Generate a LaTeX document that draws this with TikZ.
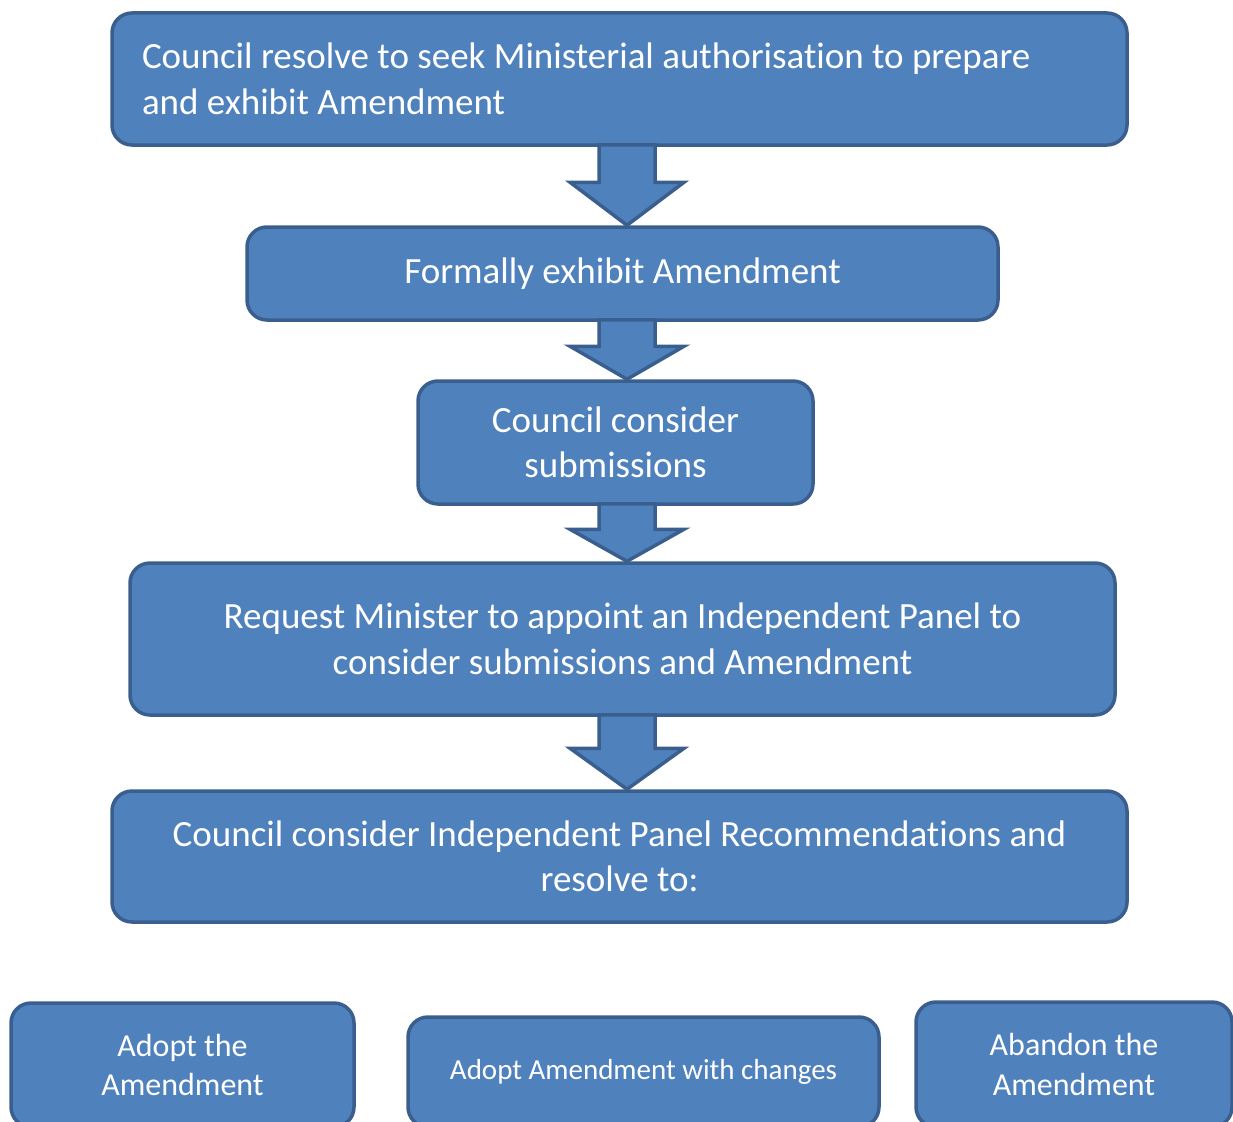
\documentclass[tikz,border=0pt]{standalone}
\usepackage{fontspec}
\setmainfont{Carlito}[Ligatures=NoCommon]
\usepackage{tikz}
\usetikzlibrary{calc}

\definecolor{boxfill}{HTML}{4F81BD}
\definecolor{boxline}{HTML}{3A5F8E}

% block arrow from the bottom of #1 to the top of #2, head length #3
\newcommand{\blockarrow}[3]{%
	\draw[barrow] ($(#1.south -| axis)+(-28,-2)$) -- ($(#2.north -| axis)+(-28,-#3)$)
		-- ($(#2.north -| axis)+(-57,-#3)$) -- (#2.north -| axis)
		-- ($(#2.north -| axis)+(57,-#3)$) -- ($(#2.north -| axis)+(28,-#3)$)
		-- ($(#1.south -| axis)+(28,-2)$) -- cycle;}

\begin{document}
\begin{tikzpicture}[x=1pt,y=-1pt]
			\tikzset{stepbox/.style={shape = rectangle, rounded corners = 20pt, draw = boxline, line width = 3.5pt,
					fill = boxfill, text = white, align = center, inner sep = 0pt,
					font = \fontsize{37}{45.5}\selectfont}}
			\tikzset{barrow/.style={draw = boxline, line width = 3.5pt, fill = boxfill, line join = miter}}
			\clip (0,0) rectangle (1233,1121);
			\coordinate (axis) at (627,0);
			%boxes
			\node[stepbox, minimum width = 1015, minimum height = 132, text width = 955, align = flush left] (resolve) at (619.5,79) {Council resolve to seek Ministerial authorisation to prepare\\and exhibit Amendment};
			\node[stepbox, minimum width = 751, minimum height = 93] (exhibit) at (622.5,273.5) {Formally exhibit Amendment};
			\node[stepbox, minimum width = 395, minimum height = 123] (consider) at (615.5,442.5) {Council consider\\submissions};
			\node[stepbox, minimum width = 985, minimum height = 152] (panel) at (622.5,639) {Request Minister to appoint an Independent Panel to\\consider submissions and Amendment};
			\node[stepbox, minimum width = 1015, minimum height = 131] (recommend) at (619.5,856.5) {Council consider Independent Panel Recommendations and\\resolve to:};
			\node[stepbox, minimum width = 343, minimum height = 124, font = \fontsize{32}{39.5}\selectfont] (adopt) at (182.5,1065) {Adopt the\\Amendment};
			\node[stepbox, minimum width = 471, minimum height = 110, font = \fontsize{29}{34}\selectfont] (changes) at (643.5,1072) {Adopt Amendment with changes};
			\node[stepbox, minimum width = 316, minimum height = 125, font = \fontsize{32}{39.5}\selectfont] (abandon) at (1074,1064.5) {Abandon the\\Amendment};
			%arrows
			\blockarrow{resolve}{exhibit}{43}
			\blockarrow{exhibit}{consider}{33}
			\blockarrow{consider}{panel}{32}
			\blockarrow{panel}{recommend}{41}
\end{tikzpicture}
\end{document}
